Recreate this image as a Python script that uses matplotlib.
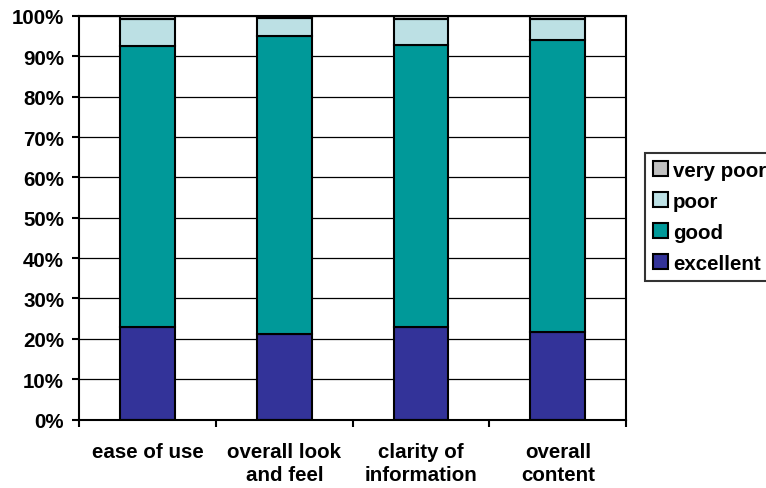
import numpy as np
import matplotlib
matplotlib.use('Agg')
import matplotlib.pyplot as plt
from matplotlib.ticker import FixedLocator, PercentFormatter

plt.rcParams['font.family'] = ['Liberation Sans', 'DejaVu Sans']
plt.rcParams['font.weight'] = 'bold'

categories = ['ease of use', 'overall look\nand feel', 'clarity of\ninformation', 'overall\ncontent']
excellent = [23.0, 21.3, 23.0, 21.6]
good = [69.5, 73.7, 69.7, 72.4]
poor = [6.7, 4.5, 6.5, 5.2]
very_poor = [0.8, 0.5, 0.8, 0.8]

series = [('excellent', excellent, '#333399'),
          ('good', good, '#009999'),
          ('poor', poor, '#BCE0E4'),
          ('very poor', very_poor, '#C0C0C0')]

FS = 14.8

fig = plt.figure(figsize=(7.66, 4.89), dpi=100)
ax = fig.add_axes([0.1035, 0.14, 0.714, 0.8254])

x = np.arange(len(categories))
bottom = np.zeros(len(categories))
handles = []
for name, vals, col in series:
    b = ax.bar(x, vals, bottom=bottom, width=0.4, color=col,
               edgecolor='black', linewidth=1.5, label=name, zorder=3)
    handles.append(b)
    bottom += np.array(vals)

ax.set_xlim(-0.5, len(categories) - 0.5)
ax.set_ylim(0, 100)
ax.yaxis.set_major_locator(FixedLocator(np.arange(0, 101, 10)))
ax.yaxis.set_major_formatter(PercentFormatter(decimals=0))
ax.grid(axis='y', color='black', linewidth=0.9, zorder=0)

ax.set_xticks(x)
ax.set_xticklabels(categories, fontsize=FS, fontweight='bold', linespacing=1.3)
ax.set_xticks(np.arange(-0.5, len(categories), 1), minor=True)
ax.tick_params(axis='x', which='major', length=0, pad=16)
ax.tick_params(axis='x', which='minor', length=5, width=1.5, direction='out')
ax.tick_params(axis='y', length=5, width=1.5, direction='out', labelsize=FS, pad=6)
for lbl in ax.get_yticklabels():
    lbl.set_fontweight('bold')

for sp in ax.spines.values():
    sp.set_linewidth(1.5)
    sp.set_zorder(4)

leg = fig.legend(handles[::-1], [s[0] for s in series][::-1],
                 loc='center left', bbox_to_anchor=(645 / 766, 0.5545),
                 frameon=True, fancybox=False, edgecolor='black',
                 prop={'weight': 'bold', 'size': FS},
                 handlelength=0.72, handleheight=0.72, handletextpad=0.25,
                 labelspacing=0.58, borderpad=0.4, borderaxespad=0)
leg.get_frame().set_linewidth(1.5)
for h in leg.legend_handles:
    h.set_linewidth(1.5)

fig.savefig('out.png', dpi=100)
